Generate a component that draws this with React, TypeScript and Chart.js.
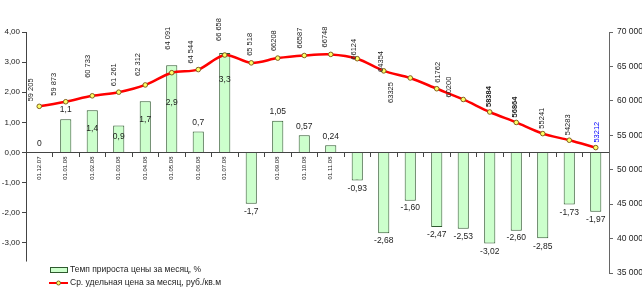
import React, { useEffect, useRef } from 'react';
import { Chart, registerables } from 'chart.js';

Chart.register(...registerables);

// ---- data ----
const categories = [
  '01.12.07', '01.01.08', '01.02.08', '01.03.08', '01.04.08', '01.05.08', '01.06.08', '01.07.08',
  '01.08.08', '01.09.08', '01.10.08', '01.11.08', '01.12.08', '01.01.09', '01.02.09', '01.03.09',
  '01.04.09', '01.05.09', '01.06.09', '01.07.09', '01.08.09', '01.09.09',
];
const growthPct = [
  0, 1.1, 1.4, 0.9, 1.7, 2.9, 0.7, 3.3, -1.7, 1.05, 0.57, 0.24, -0.93, -2.68, -1.6, -2.47, -2.53,
  -3.02, -2.6, -2.85, -1.73, -1.97,
];
const growthDecimals = [0, 1, 1, 1, 1, 1, 1, 1, 1, 2, 2, 2, 2, 2, 2, 2, 2, 2, 2, 2, 2, 2];
const avgPrice = [
  59205, 59873, 60733, 61261, 62312, 64091, 64544, 66658, 65518, 66208, 66587, 66748, 66124, 64354,
  63325, 61762, 60200, 58384, 56864, 55241, 54283, 53212,
];
const groupedPriceLabelsUpTo = 8; // first labels are written with a thousands space
const boldPriceLabels = [17, 18];
const bluePriceLabels = [21];

const leftMin = -4;
const leftMax = 4;
const leftStep = 1;
const rightMin = 35000;
const rightMax = 70000;
const rightStep = 5000;

const seriesNames = ['Темп прироста цены за месяц, %', 'Ср. удельная цена за месяц, руб./кв.м'];

// ---- label placement (style, px) ----
const barLabelDy = [-9, -10, 18, 11, 18, 38, -9, 27, 8, -9, -9, -9, 8, 7, 7, 8, 8, 8, 7, 8, 8, 8];
const priceLabelDx = [-8, -12, -4, -5, -7, -4, -7, -6, -1, -4, -4, -6, -3, -3, -19, 1, -14, -1, -1, -1, -1, 1];
const priceLabelDy = [-5, -6, -18, -6, -9, -23, -6, -14, -7, -7, -7, -7, 1, 1, 25, -6, -2, -5, -5, -5, -5, -5];

const FONT = "'Liberation Sans', Arial, sans-serif";
const BAR_FILL = '#ccffcc';
const BAR_BORDER = '#2f5a2f';
const AXIS = '#444444';
const TEXT = '#222222';

const fmtComma = (v: number, d: number) => v.toFixed(d).replace('.', ',');
const groupThousands = (v: number) => String(v).replace(/\B(?=(\d{3})+(?!\d))/g, ' ');

const labelsPlugin = {
  id: 'customLabels',
  afterDatasetsDraw(chart: any) {
    const ctx = chart.ctx;
    // bar value labels
    const barMeta = chart.getDatasetMeta(1);
    ctx.save();
    ctx.fillStyle = TEXT;
    ctx.font = `8.5px ${FONT}`;
    ctx.textAlign = 'center';
    ctx.textBaseline = 'middle';
    barMeta.data.forEach((el: any, i: number) => {
      const txt = fmtComma(growthPct[i], growthDecimals[i]);
      ctx.fillText(txt, el.x, el.y + barLabelDy[i]);
    });
    ctx.restore();

    // price labels (rotated)
    const lineMeta = chart.getDatasetMeta(0);
    lineMeta.data.forEach((el: any, i: number) => {
      const txt = i <= groupedPriceLabelsUpTo ? groupThousands(avgPrice[i]) : String(avgPrice[i]);
      ctx.save();
      ctx.translate(el.x + priceLabelDx[i], el.y + priceLabelDy[i]);
      ctx.rotate(-Math.PI / 2);
      ctx.font = `${boldPriceLabels.includes(i) ? 'bold ' : ''}7.5px ${FONT}`;
      ctx.fillStyle = bluePriceLabels.includes(i) ? '#0000ff' : TEXT;
      ctx.textAlign = 'left';
      ctx.textBaseline = 'middle';
      ctx.fillText(txt, 0, 0);
      ctx.restore();
    });
  },
  afterDraw(chart: any) {
    const ctx = chart.ctx;
    const area = chart.chartArea;
    const yScale = chart.scales.y;
    // left axis line (ends a little above the plot bottom, as in the original)
    ctx.save();
    ctx.strokeStyle = AXIS;
    ctx.lineWidth = 1;
    const x = Math.round(area.left) + 0.5;
    ctx.beginPath();
    ctx.moveTo(x, area.top);
    ctx.lineTo(x, yScale.getPixelForValue(-3.62));
    ctx.stroke();

    // legend
    ctx.fillStyle = BAR_FILL;
    ctx.fillRect(50, 267, 17, 5);
    ctx.strokeStyle = BAR_BORDER;
    ctx.strokeRect(50.5, 267.5, 17, 5);
    ctx.fillStyle = TEXT;
    ctx.font = `8.5px ${FONT}`;
    ctx.textAlign = 'left';
    ctx.textBaseline = 'middle';
    ctx.fillText(seriesNames[0], 70, 270);

    ctx.strokeStyle = '#ff0000';
    ctx.lineWidth = 2;
    ctx.beginPath();
    ctx.moveTo(49, 283);
    ctx.lineTo(68, 283);
    ctx.stroke();
    ctx.beginPath();
    ctx.arc(58.5, 283, 2, 0, Math.PI * 2);
    ctx.fillStyle = '#ffff66';
    ctx.fill();
    ctx.lineWidth = 1;
    ctx.strokeStyle = '#806020';
    ctx.stroke();
    ctx.fillStyle = TEXT;
    ctx.fillText(seriesNames[1], 70, 283);
    ctx.restore();
  },
};

export default function App() {
  const ref = useRef<HTMLCanvasElement>(null);

  useEffect(() => {
    document.body.style.margin = '0';
    const chart = new Chart(ref.current as HTMLCanvasElement, {
      type: 'bar',
      data: {
        labels: categories,
        datasets: [
          {
            type: 'line',
            label: seriesNames[1],
            data: avgPrice,
            yAxisID: 'y1',
            borderColor: '#ff0000',
            borderWidth: 2.5,
            tension: 0.3,
            pointRadius: 2.3,
            pointBackgroundColor: '#ffff66',
            pointBorderColor: '#806020',
            pointBorderWidth: 1,
            order: 0,
          } as any,
          {
            type: 'bar',
            label: seriesNames[0],
            data: growthPct,
            yAxisID: 'y',
            backgroundColor: BAR_FILL,
            borderColor: BAR_BORDER,
            borderWidth: 1,
            barPercentage: 0.42,
            categoryPercentage: 1,
            order: 1,
          },
        ],
      },
      options: {
        animation: false,
        responsive: false,
        maintainAspectRatio: false,
        layout: { padding: { left: 0, right: 0, top: 32, bottom: 31 } },
        plugins: { legend: { display: false }, tooltip: { enabled: false } },
        scales: {
          x: {
            type: 'category',
            position: { y: 0 } as any,
            offset: true,
            z: 1,
            grid: {
              offset: true,
              drawOnChartArea: false,
              drawTicks: true,
              tickLength: 4,
              color: AXIS,
            },
            border: { display: true, color: AXIS, width: 1 },
            ticks: {
              autoSkip: false,
              minRotation: 90,
              maxRotation: 90,
              padding: 0,
              color: TEXT,
              font: { family: FONT, size: 6 },
            },
            afterFit(s: any) {
              s.paddingLeft = 0;
              s.paddingRight = 0;
            },
          },
          y: {
            position: 'left',
            min: leftMin,
            max: leftMax,
            grid: {
              drawOnChartArea: false,
              drawTicks: true,
              tickLength: 4,
              tickColor: (c: any) => (c.tick && c.tick.value === leftMin ? 'rgba(0,0,0,0)' : AXIS),
            },
            border: { display: false },
            ticks: {
              stepSize: leftStep,
              padding: 2,
              color: TEXT,
              font: { family: FONT, size: 8 },
              callback: (v: any) => (v === leftMin ? '' : fmtComma(Number(v), 2)),
            },
            afterFit(s: any) {
              s.width = 26;
              s.paddingTop = 0;
              s.paddingBottom = 0;
            },
          },
          y1: {
            position: 'right',
            min: rightMin,
            max: rightMax,
            grid: { drawOnChartArea: false, drawTicks: true, tickLength: 4, color: '#666666' },
            border: { display: true, color: '#666666', width: 1 },
            ticks: {
              stepSize: rightStep,
              padding: 4,
              color: TEXT,
              font: { family: FONT, size: 8.5 },
              callback: (v: any) => groupThousands(Number(v)),
            },
            afterFit(s: any) {
              s.width = 33;
              s.paddingTop = 0;
              s.paddingBottom = 0;
            },
          },
        },
      },
      plugins: [labelsPlugin],
    });
    return () => chart.destroy();
  }, []);

  return (
    <div style={{ width: 642, height: 304, background: '#ffffff' }}>
      <canvas ref={ref} width={642} height={304} style={{ display: 'block' }} />
    </div>
  );
}
